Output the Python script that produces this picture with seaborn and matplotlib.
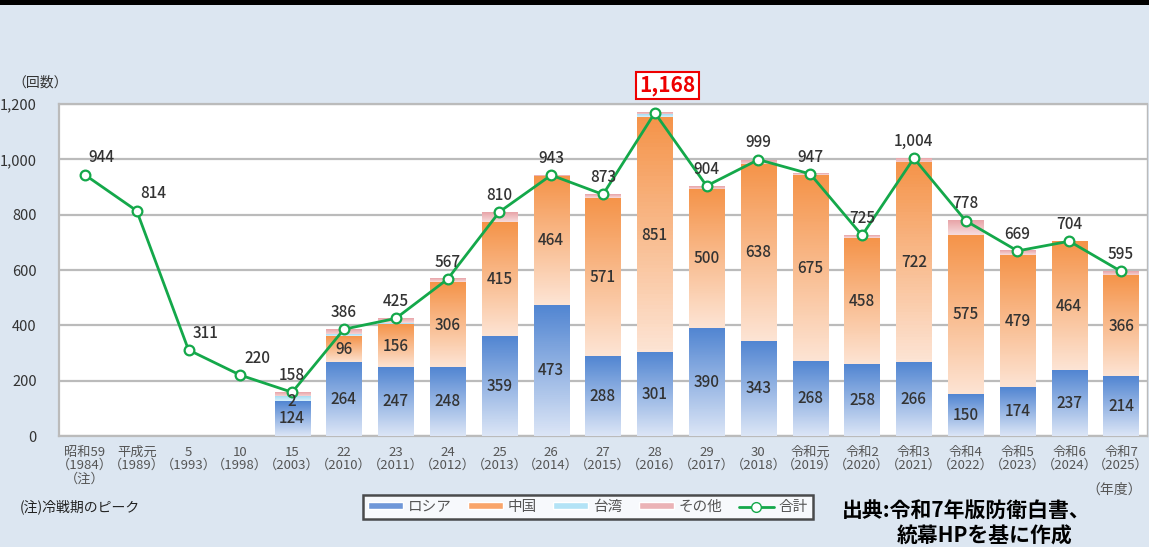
import numpy as np
import pandas as pd
import matplotlib
matplotlib.use('Agg')
import matplotlib.pyplot as plt
import seaborn as sns
from matplotlib.colors import LinearSegmentedColormap
from matplotlib.patches import Patch, Rectangle
from matplotlib.lines import Line2D

# Data (scrambles by fiscal year)
years = ['昭和59\n（1984）\n（注）', '平成元\n（1989）', '5\n（1993）', '10\n（1998）', '15\n（2003）',
         '22\n（2010）', '23\n（2011）', '24\n（2012）', '25\n（2013）', '26\n（2014）',
         '27\n（2015）', '28\n（2016）', '29\n（2017）', '30\n（2018）', '令和元\n（2019）',
         '令和2\n（2020）', '令和3\n（2021）', '令和4\n（2022）', '令和5\n（2023）', '令和6\n（2024）',
         '令和7\n（2025）']
russia = [0, 0, 0, 0, 124, 264, 247, 248, 359, 473, 288, 301, 390, 343, 268, 258, 266, 150, 174, 237, 214]
china = [0, 0, 0, 0, 2, 96, 156, 306, 415, 464, 571, 851, 500, 638, 675, 458, 722, 575, 479, 464, 366]
taiwan = [0, 0, 0, 0, 16, 6, 4, 1, 0, 0, 0, 8, 0, 0, 0, 0, 0, 0, 0, 0, 0]
other = [0, 0, 0, 0, 16, 20, 18, 12, 36, 6, 14, 8, 14, 18, 4, 9, 16, 53, 16, 3, 15]
total = [944, 814, 311, 220, 158, 386, 425, 567, 810, 943, 873, 1168, 904, 999, 947, 725, 1004, 778, 669, 704, 595]

bg = '#dce6f1'
green = '#14a84a'
txt = '#333333'

df = pd.DataFrame({'year': years, 'russia': russia, 'china': china, 'taiwan': taiwan, 'other': other})
df['c1'] = df['russia']
df['c2'] = df['c1'] + df['china']
df['c3'] = df['c2'] + df['taiwan']
df['c4'] = df['c3'] + df['other']

sns.set_style('white')
plt.rcParams['font.family'] = ['Noto Sans CJK JP', 'DejaVu Sans']

fig = plt.figure(figsize=(11.49, 5.47), dpi=100, facecolor=bg)
ax = fig.add_axes([59 / 1149, 1 - 436 / 547, 1088 / 1149, 332 / 547])
ax.set_facecolor('white')

# gradient colours for each layer (bottom colour, top colour)
layers = [('c4', 'c3', '#f7dcdc', '#e8a4a8'),
          ('c3', 'c2', '#d9f1fb', '#a6dcf3'),
          ('c2', 'c1', '#fde4d4', '#f5944a'),
          ('c1', None, '#dbe5f6', '#5286d2')]

for i, (col, below, c_bot, c_top) in enumerate(layers):
    sns.barplot(data=df, x='year', y=col, color=c_top, width=0.68, ax=ax,
                edgecolor='none', linewidth=0, zorder=2 + i * 2, saturation=1)
    cmap = LinearSegmentedColormap.from_list('g%d' % i, [c_bot, c_top])
    grad = np.linspace(0, 1, 64).reshape(-1, 1)
    bottoms = df[below].values if below else np.zeros(len(df))
    for patch, b, t in zip(ax.containers[-1].patches, bottoms, df[col].values):
        if t - b <= 0:
            continue
        x0 = patch.get_x()
        ax.imshow(grad, cmap=cmap, origin='lower', aspect='auto',
                  extent=[x0, x0 + patch.get_width(), b, t], zorder=3 + i * 2)

# total line
sns.lineplot(x=np.arange(len(total)), y=total, color=green, linewidth=2, marker='o',
             markersize=7, markerfacecolor='white', markeredgecolor=green,
             markeredgewidth=1.6, ax=ax, zorder=20)

ax.set_xlim(-0.5, len(years) - 0.5)
ax.set_ylim(0, 1200)
ax.set_yticks(range(0, 1201, 200))
ax.set_yticklabels([f'{v:,}' for v in range(0, 1201, 200)], fontsize=10.5, color=txt)
ax.set_xticks(range(len(years)))
ax.set_xticklabels(years, fontsize=9.5, color='#555555', linespacing=1.05)
ax.set_xticks(np.arange(len(years)) + 0.5, minor=True)
ax.tick_params(axis='x', which='major', length=0, pad=7)
ax.tick_params(axis='x', which='minor', direction='in', length=3, color='#aaaaaa')
ax.tick_params(axis='y', length=0, pad=16)
ax.grid(axis='y', color='#bbbbbb', linewidth=1.6, zorder=0)
ax.set_axisbelow(True)
ax.set_xlabel('')
ax.set_ylabel('')
for side in ['left', 'bottom', 'right', 'top']:
    ax.spines[side].set_visible(True)
    ax.spines[side].set_color('#bbbbbb')
    ax.spines[side].set_linewidth(1.6)
ax.spines['right'].set_linewidth(1)

# value labels inside bars
for i in range(len(years)):
    if russia[i] > 0:
        ax.text(i, russia[i] / 2, str(russia[i]), ha='center', va='center',
                fontsize=11, color=txt, fontweight='medium', zorder=25)
    if china[i] > 0:
        ax.text(i, russia[i] + china[i] / 2, str(china[i]), ha='center', va='center',
                fontsize=11, color=txt, fontweight='medium', zorder=25)

# total labels
for i, v in enumerate(total):
    if i == 11:
        ax.annotate(f'{v:,}', (i, v), xytext=(9, 12), textcoords='offset points',
                    ha='center', va='bottom', fontsize=15, color='#ee0000', fontweight='bold',
                    annotation_clip=False, zorder=30,
                    bbox=dict(boxstyle='square,pad=0.15', fc='white', ec='#ee0000', lw=1.5))
        continue
    dx = 12 if i < 4 else 0
    ax.annotate(f'{v:,}', (i, v), xytext=(dx, 6), textcoords='offset points',
                ha='center', va='bottom', fontsize=11, color=txt, fontweight='medium',
                annotation_clip=False, zorder=30)

# texts around the chart
fig.text(12 / 1149, 1 - 83 / 547, '（回数）', fontsize=10, color=txt, va='center')
fig.text(1142 / 1149, 1 - 490 / 547, '（年度）', fontsize=10, color='#555555', va='center', ha='right')
fig.text(20 / 1149, 1 - 507 / 547, '(注)冷戦期のピーク', fontsize=10, color='#222222', va='center')
fig.text(842 / 1149, 1 - 510 / 547, '出典:令和7年版防衛白書、', fontsize=15, fontweight='bold',
         color='black', va='center')
fig.text(897 / 1149, 1 - 536 / 547, '統幕HPを基に作成', fontsize=15, fontweight='bold',
         color='black', va='center')

# legend
handles = [Patch(facecolor='#6f97d8', label='ロシア'),
           Patch(facecolor='#f9a56a', label='中国'),
           Patch(facecolor='#b3e3f6', label='台湾'),
           Patch(facecolor='#ebb3b6', label='その他'),
           Line2D([], [], color=green, linewidth=2, marker='o', markersize=7,
                  markerfacecolor='white', markeredgecolor=green, label='合計')]
leg = fig.legend(handles=handles, loc='center', bbox_to_anchor=(588 / 1149, 1 - 507 / 547),
                 ncol=5, fontsize=10.5, frameon=True, fancybox=False, handlelength=2.4,
                 handleheight=0.35, columnspacing=1.1, handletextpad=0.35, borderpad=0.35)
leg.get_frame().set_edgecolor('#222222')
leg.get_frame().set_linewidth(1.8)
for t in leg.get_texts():
    t.set_color('#555555')

# top border
fig.patches.append(Rectangle((0, 1 - 5 / 547), 1, 5 / 547, transform=fig.transFigure,
                             facecolor='black', edgecolor='none'))

fig.savefig('out.png', dpi=100, facecolor=bg)
